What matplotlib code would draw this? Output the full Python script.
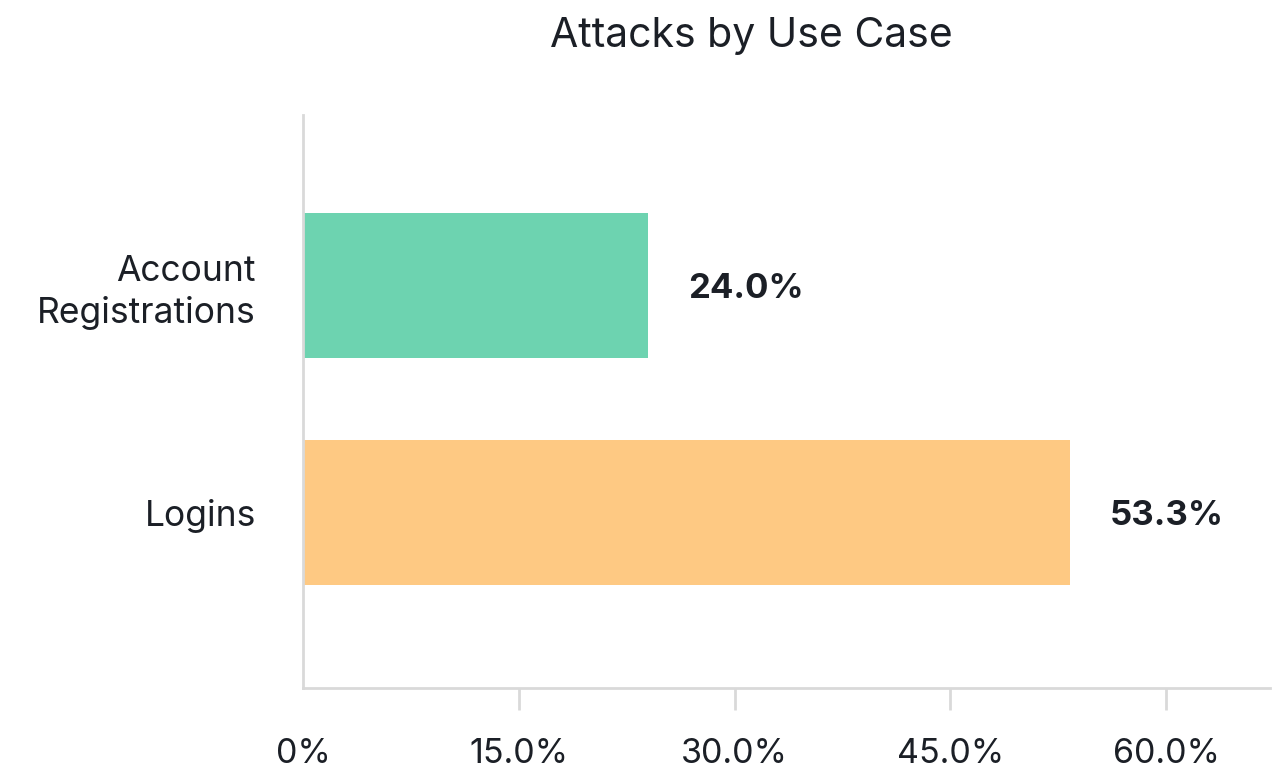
import matplotlib
matplotlib.use("Agg")
import matplotlib.pyplot as plt
from matplotlib.ticker import FuncFormatter

plt.rcParams['font.family'] = ['Inter', 'DejaVu Sans']

categories = ["Logins", "Account\nRegistrations"]
shares = [53.3, 24.0]
colors = ["#fec983", "#6dd3b0"]
x_ticks = [0, 15, 30, 45, 60]

text_color = "#1b1f26"
axis_color = "#d9d9d9"

fig = plt.figure(figsize=(12.73, 7.71), dpi=100)
ax = fig.add_axes([0.238, 0.108, 0.7596, 0.743])

ypos = list(range(len(categories)))
ax.barh(ypos, shares, height=0.64, color=colors, zorder=2)

for y, v in zip(ypos, shares):
    ax.text(v + 2.8, y, f"{v:.1f}%", va="center_baseline", ha="left",
            fontsize=25, fontweight="bold", color=text_color)

ax.set_xlim(0, 67.2)
ax.set_ylim(-0.77, 1.75)
ax.set_yticks(ypos)
ax.set_yticklabels(categories, fontsize=25.5, color=text_color, linespacing=1.3)
ax.set_xticks(x_ticks)
ax.xaxis.set_major_formatter(FuncFormatter(lambda v, _: "0%" if v == 0 else f"{v:.1f}%"))
ax.tick_params(axis="x", length=16, width=2, color=axis_color, pad=20,
               labelsize=24.5, labelcolor=text_color)
ax.tick_params(axis="y", length=0, pad=34)
ax.xaxis.get_major_ticks()[0].tick1line.set_visible(False)

for side in ["top", "right"]:
    ax.spines[side].set_visible(False)
for side in ["left", "bottom"]:
    ax.spines[side].set_color(axis_color)
    ax.spines[side].set_linewidth(2)

fig.suptitle("Attacks by Use Case", x=0.59, y=0.978, va="top",
             fontsize=29.5, color=text_color)

fig.savefig("out.png", dpi=100)
